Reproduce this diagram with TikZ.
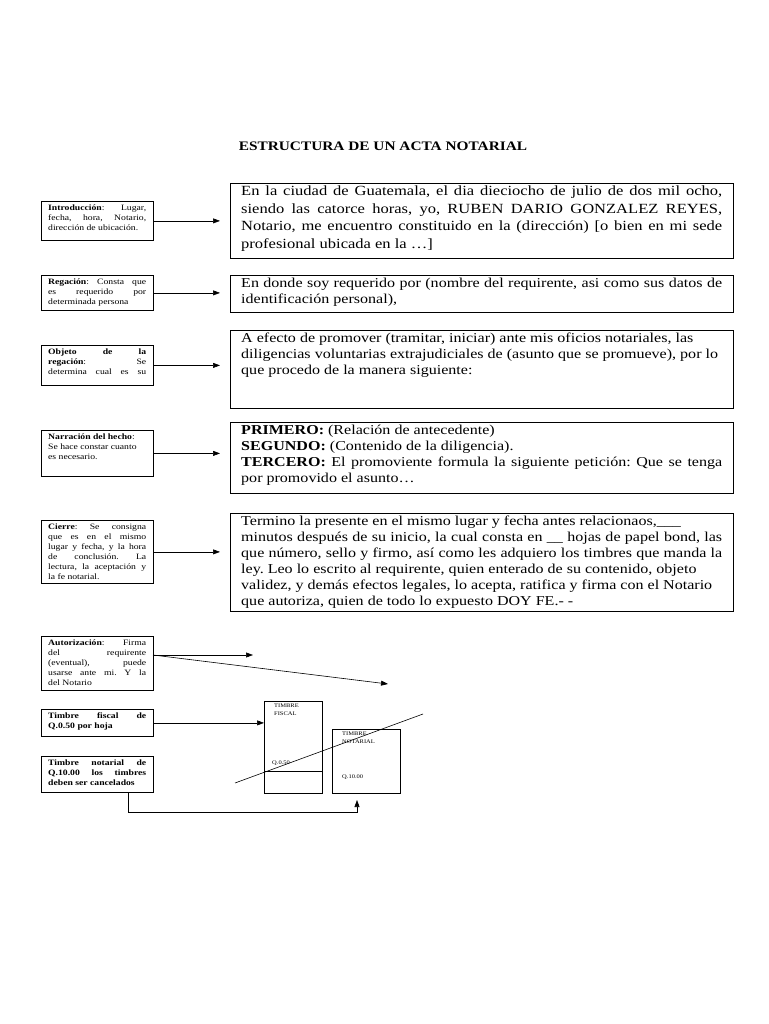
\documentclass[tikz,border=0pt]{standalone}
\usepackage{fontspec}
\setmainfont[FakeStretch=1.18]{Liberation Serif}
\usetikzlibrary{arrows.meta}
\frenchspacing
\begin{document}
\begin{tikzpicture}[x=1pt,y=-1pt,
  box/.style={draw, line width=0.8pt, inner sep=0pt, anchor=north west},
  lbox/.style={box, minimum width=112pt},
  rbox/.style={box, minimum width=503pt},
  ltext/.style={inner sep=0pt, anchor=north west, xshift=7pt, yshift=-4pt},
  rtext/.style={inner sep=0pt, anchor=north west, xshift=11pt, yshift=-3pt},
  arr/.style={line width=0.6pt, -{Triangle[length=7pt,width=5pt]}},
  stamp/.style={inner sep=0pt, anchor=north west, font=\fontsize{5.5}{7.5}\selectfont, align=left}]
\useasboundingbox (0,0) rectangle (768,1024);
\newcommand{\lsz}{\fontsize{8.2}{10}\selectfont\frenchspacing}
\newcommand{\rsz}{\fontsize{13.6}{16}\selectfont\frenchspacing}

\node[inner sep=0pt, font=\fontsize{13}{15}\selectfont\bfseries] (title) at (383,146) {ESTRUCTURA DE UN ACTA NOTARIAL};

% left boxes
\node[lbox, minimum height=39pt] (l1) at (41,201) {};
\node[lbox, minimum height=35pt] (l2) at (41,275) {};
\node[lbox, minimum height=40pt] (l3) at (41,345) {};
\node[lbox, minimum height=46pt] (l4) at (41,430) {};
\node[lbox, minimum height=63pt] (l5) at (41,520) {};
\node[lbox, minimum height=54pt] (l6) at (41,636) {};
\node[lbox, minimum height=27pt] (l7) at (41,709) {};
\node[lbox, minimum height=36pt] (l8) at (41,756) {};

\node[ltext] (t1) at (l1.north west) {\parbox[t]{98pt}{\lsz\textbf{Introducción}: Lugar,\linebreak fecha, hora, Notario,\linebreak dirección de ubicación.}};
\node[ltext] (t2) at (l2.north west) {\parbox[t]{98pt}{\lsz\textbf{Regación}: Consta que\linebreak es requerido por\linebreak determinada persona}};
\node[ltext] (t3) at (l3.north west) {\parbox[t]{98pt}{\lsz\textbf{Objeto de la\linebreak regación}: Se\linebreak \makebox[98pt][s]{determina cual es su}}};
\node[ltext] (t4) at (l4.north west) {\parbox[t]{98pt}{\lsz\textbf{Narración del hecho}:\newline Se hace constar cuanto\newline es necesario.}};
\node[ltext] (t5) at (l5.north west) {\parbox[t]{98pt}{\lsz\textbf{Cierre}: Se consigna\linebreak que es en el mismo\linebreak lugar y fecha, y la hora\linebreak de conclusión. La\linebreak lectura, la aceptación y\linebreak la fe notarial.}};
\node[ltext] (t6) at (l6.north west) {\parbox[t]{98pt}{\lsz\textbf{Autorización}: Firma\linebreak del requirente\linebreak (eventual), puede\linebreak usarse ante mi. Y la\linebreak del Notario}};
\node[ltext] (t7) at (l7.north west) {\parbox[t]{98pt}{\lsz\bfseries Timbre fiscal de\linebreak Q.0.50 por hoja}};
\node[ltext] (t8) at (l8.north west) {\parbox[t]{98pt}{\lsz\bfseries Timbre notarial de\linebreak Q.10.00 los timbres\linebreak deben ser cancelados}};

% right boxes
\node[rbox, minimum height=75pt] (r1) at (230,183) {};
\node[rbox, minimum height=37pt] (r2) at (230,275) {};
\node[rbox, minimum height=78pt] (r3) at (230,330) {};
\node[rbox, minimum height=71pt] (r4) at (230,422) {};
\node[rbox, minimum height=98pt] (r5) at (230,513) {};

\node[rtext] (s1) at (r1.north west) {\parbox[t]{481pt}{\fontsize{14}{17.5}\selectfont\frenchspacing En la ciudad de Guatemala, el dia dieciocho de julio de dos mil ocho,\linebreak siendo las catorce horas, yo, RUBEN DARIO GONZALEZ REYES,\linebreak Notario, me encuentro constituido en la (dirección) [o bien en mi sede\linebreak profesional ubicada en la …]}};
\node[rtext] (s2) at (r2.north west) {\parbox[t]{481pt}{\rsz En donde soy requerido por (nombre del requirente, asi como sus datos de\linebreak identificación personal),}};
\node[rtext] (s3) at (r3.north west) {\parbox[t]{481pt}{\rsz A efecto de promover (tramitar, iniciar) ante mis oficios notariales, las\newline diligencias voluntarias extrajudiciales de (asunto que se promueve), por~lo\newline que procedo de la manera siguiente:}};
\node[rtext] (s4) at (r4.north west) {\parbox[t]{481pt}{\rsz\textbf{PRIMERO:} (Relación de antecedente)\newline \textbf{SEGUNDO:} (Contenido de la diligencia).\newline \textbf{TERCERO:} El promoviente formula la siguiente petición: Que se tenga\linebreak por promovido el asunto…}};
\node[rtext] (s5) at (r5.north west) {\parbox[t]{481pt}{\rsz Termino la presente en el mismo lugar y fecha antes relacionaos,\_\_\_\newline minutos después de su inicio, la cual consta en \_\_ hojas de papel bond, las\linebreak que número, sello y firmo, así como les adquiero los timbres que manda la\linebreak ley. Leo lo escrito al requirente, quien enterado de su contenido, objeto\newline validez, y demás efectos legales, lo acepta, ratifica y firma con el Notario\newline que autoriza, quien de todo lo expuesto DOY FE.- -}};

% arrows
\foreach \i in {1,...,5}{
  \draw[arr, shorten >=10pt] (l\i.east) -- (l\i.east -| r\i.west);
}

% stamps
\node[box, minimum width=58pt, minimum height=92pt] (fis) at (264,701) {};
\node[box, minimum width=68pt, minimum height=64pt] (nota) at (332,729) {};
\coordinate (fisL) at (264,771);
\coordinate (fisR) at (322,771);
\draw[line width=0.6pt] (fisL) -- (fisR);
\node[stamp] (fist) at (274,704) {TIMBRE\\FISCAL};
\node[stamp] (fisq) at (272,761) {Q.0.50};
\node[stamp] (notat) at (342,732) {TIMBRE\\NOTARIAL};
\node[stamp] (notaq) at (342,775) {Q.10.00};
\coordinate (d1) at (235,783);
\coordinate (d2) at (423,714);
\draw[line width=0.6pt] (d1) -- (d2);

% bottom arrows
\coordinate (a0) at (153,655);
\coordinate (a1) at (253,655);
\coordinate (a2) at (388,684);
\draw[arr] (a0) -- (a1);
\draw[arr] (a0) -- (a2);
\draw[arr] (l7.east) -- (l7.east -| fis.west);
\coordinate (b0) at (128,792);
\coordinate (b1) at (128,812);
\coordinate (b2) at (357,812);
\coordinate (b3) at (357,800);
\draw[arr] (b0) -- (b1) -- (b2) -- (b3);
\end{tikzpicture}
\end{document}
